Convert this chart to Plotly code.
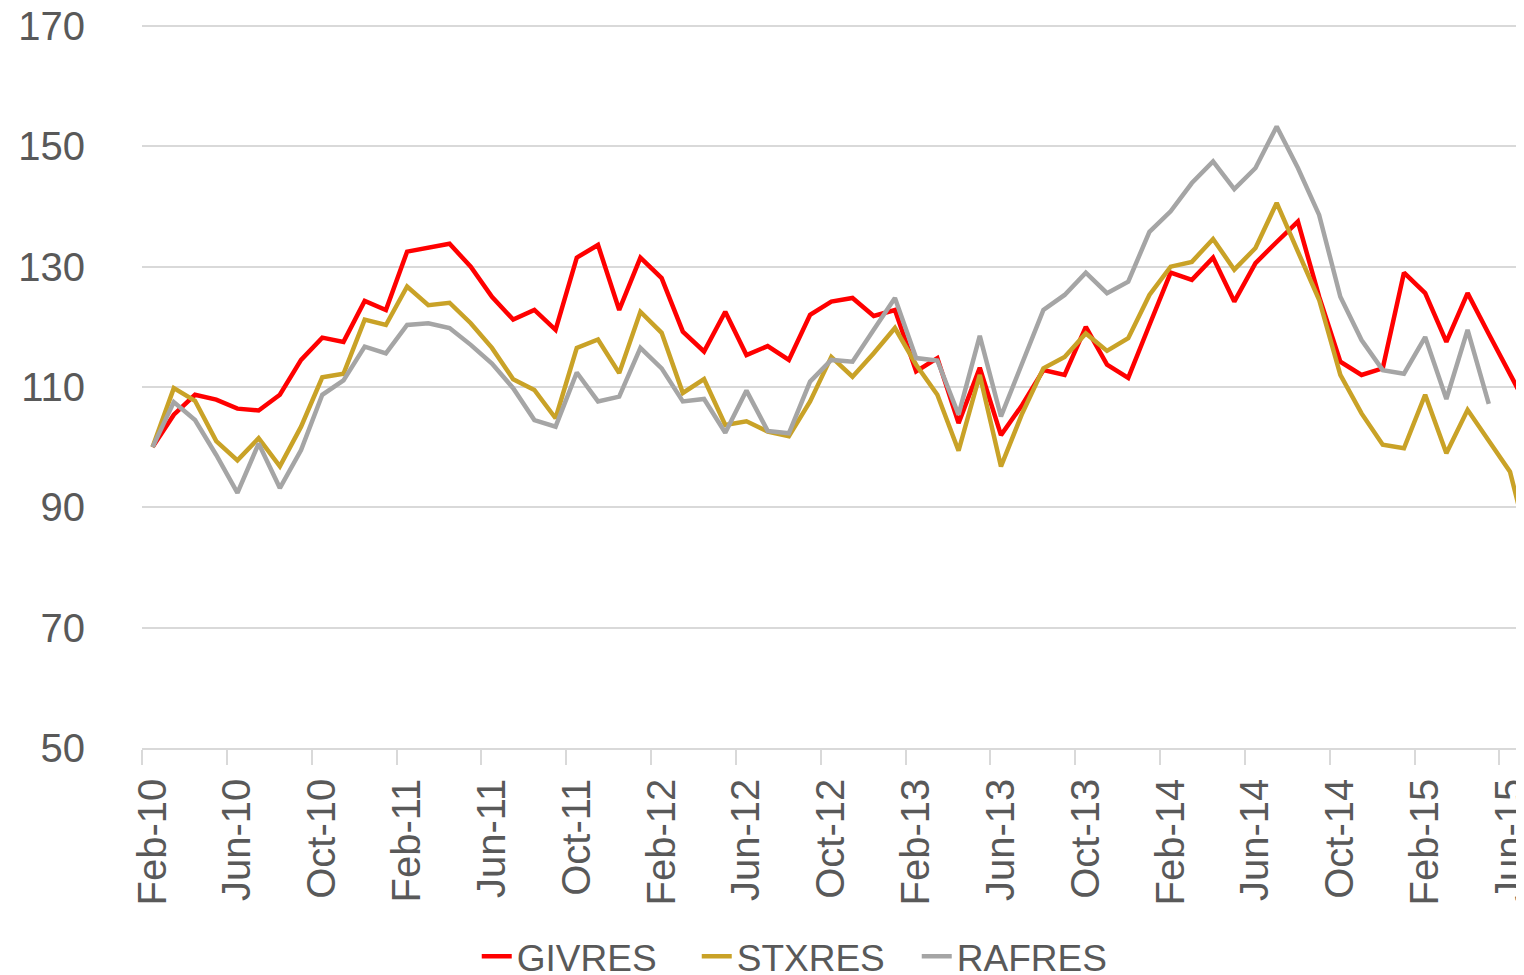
import pandas as pd
import plotly.graph_objects as go

# monthly categories Feb-10 .. Jul-15
months = [d.strftime('%b-%y') for d in pd.date_range('2010-02-01', '2015-07-01', freq='MS')]

givres = [100, 105.4, 108.7, 107.9, 106.4, 106.1, 108.7, 114.5, 118.2, 117.5,
          124.3, 122.8, 132.5, 133.1, 133.8, 130.0, 125.0, 121.2, 122.8, 119.5,
          131.5, 133.6, 122.8, 131.5, 128.1, 119.2, 115.9, 122.5, 115.3, 116.8,
          114.5, 122.0, 124.2, 124.8, 121.8, 122.8, 112.6, 114.8, 104.0, 113.2,
          102.0, 107.0, 112.8, 112.0, 120.0, 113.7, 111.5, 120.3, 129.0, 127.8,
          131.5, 124.2, 130.6, 134.1, 137.5, 125.0, 114.2, 112.0, 113.1, 129.0,
          125.6, 117.5, 125.6, 118.8, 112.0, 105.5]

stxres = [100, 109.8, 107.7, 101.0, 97.8, 101.5, 96.8, 103.4, 111.6, 112.2,
          121.2, 120.3, 126.7, 123.6, 124.0, 120.6, 116.5, 111.3, 109.5, 104.8,
          116.5, 117.9, 112.3, 122.5, 119.0, 109.0, 111.3, 103.7, 104.3, 102.6,
          101.8, 107.6, 115.0, 111.7, 115.6, 119.8, 113.7, 108.7, 99.4, 112.0,
          96.8, 105.6, 113.1, 115.0, 118.9, 116.0, 118.1, 125.3, 130.0, 130.8,
          134.6, 129.5, 133.1, 140.6, 132.5, 124.5, 112.0, 105.6, 100.4, 99.8,
          108.7, 99.0, 106.2, 101.2, 95.9, 82.0]

rafres = [100, 107.5, 104.5, 98.7, 92.4, 100.6, 93.2, 99.5, 108.7, 111.1,
          116.7, 115.6, 120.3, 120.6, 119.8, 117.0, 113.9, 109.8, 104.5, 103.4,
          112.4, 107.6, 108.4, 116.5, 113.1, 107.6, 108.0, 102.4, 109.4, 102.7,
          102.3, 110.9, 114.5, 114.2, 119.5, 124.8, 114.8, 114.4, 105.4, 118.5,
          105.1, 114.2, 122.8, 125.3, 129.0, 125.6, 127.5, 135.8, 139.2, 143.9,
          147.5, 142.9, 146.4, 153.3, 146.4, 138.6, 125.0, 117.8, 112.8, 112.2,
          118.3, 108.0, 119.5, 107.2, None, None]

series = [('GIVRES', givres, '#FF0000'),
          ('STXRES', stxres, '#C9A227'),
          ('RAFRES', rafres, '#A5A5A5')]

txt = '#595959'
grid = '#D9D9D9'
font = 'Liberation Sans, Arial, sans-serif'

fig = go.Figure()
for name, vals, col in series:
    fig.add_trace(go.Scatter(x=months, y=vals, mode='lines', name=name,
                             line=dict(color=col, width=4.5)))

# page body adds an 8px margin, so the figure is a bit narrower and the
# margins are trimmed; the plot is meant to run off the right edge
fig.update_layout(
    width=1516, height=1000,
    margin=dict(l=134, r=0, t=15, b=260),
    paper_bgcolor='white', plot_bgcolor='white',
    font=dict(family=font, color=txt),
    showlegend=True,
    legend=dict(orientation='h', x=0.481, xanchor='center', y=-0.288, yanchor='middle',
                font=dict(size=37, color=txt), entrywidth=175, entrywidthmode='pixels',
                tracegroupgap=0),
)
fig.update_xaxes(type='category', range=[-0.5, 64.66], tickmode='linear', tick0=0, dtick=4,
                 tickson='boundaries', ticks='outside', ticklen=15, tickcolor=grid, tickwidth=1.5,
                 showline=True, linecolor=grid, linewidth=1.5, showgrid=False, automargin=False,
                 tickangle=-90, tickfont=dict(size=40, color=txt), ticklabelstandoff=13)
fig.update_yaxes(range=[49.99, 170.5], tickmode='array', tickvals=[50, 70, 90, 110, 130, 150, 170],
                 showgrid=True, gridcolor=grid, gridwidth=1.5, ticklabeloverflow='allow',
                 zeroline=False, showline=False, ticks='', automargin=False,
                 tickfont=dict(size=40, color=txt), ticklabelstandoff=56)

fig.write_html('out.html')
